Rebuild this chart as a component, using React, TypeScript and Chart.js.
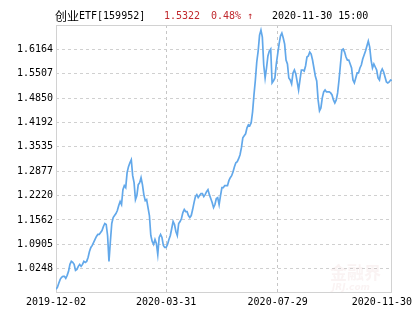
import React, { useEffect, useRef } from "react";
import { Chart, registerables } from "chart.js";

Chart.register(...registerables);

const titleName = "创业";
const titleCode = "ETF[159952]";
const titlePrice = "1.5322";
const titleChange = "0.48% ↑";
const titleTime = "2020-11-30 15:00";

const xTickIndex = [0, 79, 159, 241];
const xTickLabels = ["2019-12-02", "2020-03-31", "2020-07-29", "2020-11-30"];

const yTickLabels = ["1.0248", "1.0905", "1.1562", "1.2220", "1.2877", "1.3535", "1.4192", "1.4850", "1.5507", "1.6164"];
const yMin = 0.9591;
const yMax = 1.6821;

const prices = [
  0.969, 0.9744, 0.9852, 0.9959, 1.0013, 1.004, 1.004, 0.9986, 1.0067, 1.0175,
  1.0363, 1.0444, 1.0417, 1.0363, 1.0201, 1.0228, 1.0309, 1.0363, 1.0309, 1.0363,
  1.0444, 1.0417, 1.0444, 1.0551, 1.0712, 1.082, 1.0874, 1.0955, 1.1035, 1.1116,
  1.117, 1.117, 1.1223, 1.1277, 1.1385, 1.1466, 1.1439, 1.1143, 1.0444, 1.0981,
  1.1466, 1.1627, 1.1681, 1.1734, 1.1815, 1.195, 1.2057, 1.1977, 1.238, 1.2488,
  1.2434, 1.2837, 1.2999, 1.3106, 1.3187, 1.2756, 1.2568, 1.2111, 1.2219, 1.2514,
  1.2568, 1.2703, 1.2514, 1.2245, 1.2084, 1.2111, 1.1896, 1.1681, 1.1143, 1.0981,
  1.0901, 1.1035, 1.0928, 1.0632, 1.1089, 1.117, 1.1089, 1.0874, 1.082, 1.082,
  1.0901, 1.1035, 1.1143, 1.1331, 1.1519, 1.1439, 1.125, 1.1143, 1.1466, 1.1519,
  1.16, 1.1761, 1.1842, 1.1788, 1.1788, 1.1681, 1.1627, 1.1681, 1.1842, 1.203,
  1.2192, 1.2245, 1.2165, 1.2219, 1.2272, 1.2272, 1.2192, 1.2245, 1.2326, 1.238,
  1.2245, 1.2138, 1.203, 1.1896, 1.1977, 1.2138, 1.2165, 1.1977, 1.2219, 1.2434,
  1.2434, 1.2488, 1.2488, 1.2488, 1.2622, 1.2703, 1.2756, 1.2864, 1.2999, 1.3106,
  1.3133, 1.3214, 1.3321, 1.351, 1.3778, 1.3832, 1.3886, 1.4047, 1.4128, 1.4101,
  1.4182, 1.4478, 1.4935, 1.5338, 1.5823, 1.6118, 1.6549, 1.6683, 1.6495, 1.5742,
  1.5392, 1.5661, 1.5984, 1.6118, 1.6172, 1.5258, 1.5312, 1.5392, 1.5769, 1.6038,
  1.6307, 1.6522, 1.6602, 1.6468, 1.6307, 1.5876, 1.5769, 1.5392, 1.5338, 1.5231,
  1.5527, 1.5607, 1.55, 1.5285, 1.5069, 1.5338, 1.5607, 1.5607, 1.558, 1.5715,
  1.5957, 1.5984, 1.6091, 1.6038, 1.5876, 1.5661, 1.5446, 1.5312, 1.48, 1.4505,
  1.4585, 1.4854, 1.5016, 1.5069, 1.5016, 1.5016, 1.5016, 1.4989, 1.4935, 1.48,
  1.472, 1.48, 1.4989, 1.5338, 1.5742, 1.6145, 1.6172, 1.6091, 1.5957, 1.5876,
  1.5876, 1.5769, 1.5661, 1.5338, 1.5258, 1.5392, 1.5527, 1.5527, 1.5661, 1.5742,
  1.5903, 1.6011, 1.6118, 1.6253, 1.6387, 1.6226, 1.5876, 1.5661, 1.5769, 1.5688,
  1.5607, 1.5392, 1.5338, 1.5554, 1.5634, 1.5554, 1.5419, 1.5285, 1.5258, 1.5285,
  1.5338, 1.5322,
];

const monoFont = "'DejaVu Sans Mono', 'Liberation Mono', monospace";
const cjkFont = "'Noto Sans CJK SC', sans-serif";

const decorPlugin = {
  id: "decor",
  beforeDatasetsDraw(chart: any) {
    const { ctx, chartArea } = chart;
    ctx.save();
    // watermark
    ctx.fillStyle = "rgba(200, 120, 120, 0.09)";
    ctx.font = `bold 17px ${cjkFont}`;
    ctx.textBaseline = "alphabetic";
    ctx.textAlign = "left";
    ctx.fillText("金融界", chartArea.right - 62, chartArea.bottom - 14);
    ctx.font = `italic bold 9px 'DejaVu Sans', sans-serif`;
    ctx.fillText("JRJ.com", chartArea.right - 60, chartArea.bottom - 3);
    // border
    ctx.strokeStyle = "#d2d2d2";
    ctx.lineWidth = 1;
    ctx.setLineDash([]);
    ctx.strokeRect(chartArea.left + 0.5, chartArea.top + 0.5, chartArea.width - 1, chartArea.height - 1);
    ctx.restore();
  },
  afterDraw(chart: any) {
    const { ctx, scales } = chart;
    ctx.save();
    ctx.textBaseline = "middle";
    ctx.textAlign = "left";
    // title
    let x = 55;
    const ty = 16;
    ctx.fillStyle = "#000";
    ctx.font = `12px ${cjkFont}`;
    ctx.fillText(titleName, x, ty);
    x += ctx.measureText(titleName).width;
    ctx.font = `10px ${monoFont}`;
    ctx.fillText(titleCode, x, ty);
    ctx.fillStyle = "#c0282d";
    ctx.fillText(titlePrice, 164, ty);
    ctx.fillText(titleChange, 211, ty);
    ctx.fillStyle = "#000";
    ctx.fillText(titleTime, 272, ty);
    // x labels
    const xs = scales.x;
    ctx.font = `10px ${monoFont}`;
    ctx.fillStyle = "#000";
    ctx.textAlign = "left";
    xTickIndex.forEach((idx, i) => {
      const label = xTickLabels[i];
      const w = ctx.measureText(label).width;
      let lx = xs.getPixelForValue(idx) - w / 2;
      if (lx + w > chart.width - 3) lx = chart.width - 3 - w;
      if (lx < 0) lx = 0;
      ctx.fillText(label, lx, 302);
    });
    ctx.restore();
  },
};

export default function App() {
  const ref = useRef<HTMLCanvasElement | null>(null);
  useEffect(() => {
    if (!ref.current) return;
    const chart = new Chart(ref.current, {
      type: "line",
      data: {
        datasets: [
          {
            data: prices.map((v, i) => ({ x: i, y: v })),
            borderColor: "#62a8ea",
            borderWidth: 1.7,
            pointRadius: 0,
            tension: 0,
            fill: false,
          },
        ],
      },
      options: {
        animation: false,
        responsive: false,
        devicePixelRatio: 1,
        layout: { padding: { top: 25, right: 23, left: 0, bottom: 0 } },
        plugins: { legend: { display: false }, tooltip: { enabled: false }, title: { display: false } },
        scales: {
          x: {
            type: "linear",
            min: 0,
            max: prices.length - 1,
            afterBuildTicks: (scale: any) => {
              scale.ticks = xTickIndex.map((v) => ({ value: v }));
            },
            afterFit: (scale: any) => {
              scale.height = 37;
            },
            ticks: { display: false },
            border: { display: false, dash: [3, 3] },
            grid: {
              drawTicks: false,
              color: (c: any) =>
                c.tick && (c.tick.value === xTickIndex[0] || c.tick.value === xTickIndex[xTickIndex.length - 1])
                  ? "rgba(0,0,0,0)"
                  : "#c6c6c6",
            },
          },
          y: {
            type: "linear",
            min: yMin,
            max: yMax,
            afterBuildTicks: (scale: any) => {
              scale.ticks = yTickLabels.map((s) => ({ value: parseFloat(s) }));
            },
            afterFit: (scale: any) => {
              scale.width = 56;
            },
            ticks: {
              autoSkip: false,
              padding: 3,
              color: "#000",
              font: { family: monoFont, size: 10 },
              callback: (_v: any, i: number) => yTickLabels[i],
            },
            border: { display: false, dash: [3, 3] },
            grid: { drawTicks: false, color: "#d0d0d0" },
          },
        },
      },
      plugins: [decorPlugin],
    });
    return () => chart.destroy();
  }, []);
  return (
    <div style={{ position: "fixed", left: 0, top: 0, width: 415, height: 330, background: "#fff" }}>
      <canvas ref={ref} width={415} height={330} style={{ display: "block" }} />
    </div>
  );
}
